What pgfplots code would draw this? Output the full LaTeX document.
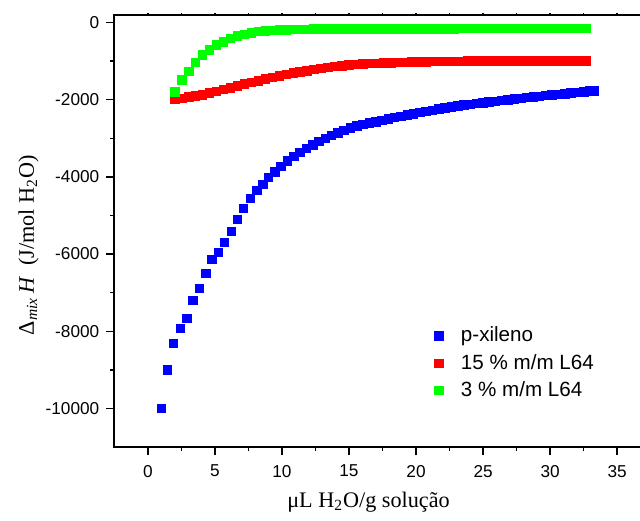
\documentclass[border=0pt]{standalone}
\usepackage{amsmath}
\usepackage{fontspec}
\setmainfont{Liberation Serif}
\setsansfont{Liberation Sans}
\usepackage{pgfplots}
\usepackage{pgfplotstable}
\pgfplotsset{compat=1.18}

\pgfplotstableread{
x y
1.00 -10000
1.44 -9000
1.91 -8316
2.41 -7927
2.88 -7668
3.33 -7194
3.83 -6891
4.30 -6503
4.75 -6140
5.24 -5959
5.71 -5699
6.21 -5407
6.66 -5096
7.13 -4819
7.63 -4560
8.10 -4345
8.57 -4197
8.99 -4016
9.46 -3870
9.93 -3730
10.40 -3589
10.87 -3472
11.34 -3367
11.81 -3262
12.28 -3171
12.75 -3081
13.22 -2997
13.69 -2926
14.16 -2854
14.63 -2791
15.10 -2733
15.57 -2676
16.04 -2639
16.51 -2603
16.98 -2566
17.45 -2530
17.92 -2493
18.39 -2460
18.86 -2428
19.33 -2396
19.80 -2364
20.27 -2332
20.74 -2301
21.21 -2272
21.68 -2243
22.15 -2214
22.62 -2185
23.09 -2157
23.56 -2138
24.03 -2118
24.50 -2099
24.97 -2079
25.44 -2060
25.91 -2040
26.38 -2020
26.85 -2000
27.32 -1980
27.79 -1960
28.26 -1942
28.73 -1926
29.20 -1909
29.67 -1892
30.14 -1876
30.61 -1859
31.08 -1843
31.55 -1827
32.02 -1811
32.49 -1794
32.96 -1778
33.30 -1770
}\bluedata

\pgfplotstableread{
x y
1.99 -1995
2.51 -1965
3.03 -1933
3.55 -1902
4.07 -1869
4.59 -1825
5.11 -1780
5.63 -1733
6.15 -1687
6.67 -1641
7.19 -1595
7.71 -1549
8.23 -1504
8.75 -1461
9.27 -1420
9.79 -1381
10.31 -1344
10.83 -1309
11.35 -1277
11.87 -1245
12.39 -1215
12.91 -1185
13.43 -1159
13.95 -1134
14.47 -1116
14.99 -1098
15.51 -1085
16.03 -1071
16.55 -1062
17.07 -1054
17.59 -1046
18.11 -1039
18.63 -1034
19.15 -1028
19.67 -1023
20.19 -1018
20.71 -1014
21.23 -1010
21.75 -1007
22.27 -1004
22.79 -1002
23.31 -1001
23.83 -1000
24.35 -1000
24.87 -1000
25.39 -999
25.91 -999
26.43 -999
26.95 -998
27.47 -998
27.99 -998
28.51 -998
29.03 -997
29.55 -997
30.07 -997
30.59 -997
31.11 -996
31.63 -996
32.15 -996
32.67 -996
}\reddata

\pgfplotstableread{
x y
1.99 -1797
2.51 -1480
3.03 -1262
3.55 -1036
4.07 -842
4.59 -713
5.11 -585
5.63 -496
6.15 -414
6.67 -351
7.19 -304
7.71 -264
8.23 -230
8.75 -212
9.27 -201
9.79 -193
10.31 -187
10.83 -182
11.35 -177
11.87 -173
12.39 -170
12.91 -168
13.43 -166
13.95 -165
14.47 -164
14.99 -163
15.51 -162
16.03 -161
16.55 -161
17.07 -160
17.59 -160
18.11 -159
18.63 -159
19.15 -158
19.67 -158
20.19 -158
20.71 -157
21.23 -157
21.75 -157
22.27 -157
22.79 -157
23.31 -156
23.83 -156
24.35 -156
24.87 -156
25.39 -156
25.91 -156
26.43 -156
26.95 -155
27.47 -155
27.99 -155
28.51 -155
29.03 -155
29.55 -155
30.07 -155
30.59 -155
31.11 -155
31.63 -155
32.15 -155
32.67 -155
}\greendata

\begin{document}
\begin{tikzpicture}
\useasboundingbox (0,0) rectangle (320pt,260pt);
\begin{axis}[
  at={(57.15pt,36.5pt)}, anchor=south west,
  scale only axis, width=264.85pt, height=216.15pt,
  xmin=-2.5, xmax=37, ymin=-11000, ymax=200,
  xtick={0,5,...,35}, ytick={-10000,-8000,...,0},
  minor x tick num=1, minor y tick num=1,
  xtick pos=bottom, ytick pos=left,
  tick align=outside,
  major tick length=4pt, minor tick length=2pt,
  every tick/.style={black, line width=0.7pt},
  axis line style={line width=1pt},
  scaled y ticks=false,
  /pgf/number format/assume math mode=true,
  /pgf/number format/1000 sep={},
  tick label style={font=\sffamily\fontsize{8.6}{10}\selectfont},
  xticklabel style={yshift=-1.5pt},
  xlabel={μL H\textsubscript{2}O/g solução},
  ylabel={Δ$_{\text{\itshape mix}}$\,\textit{H}\ \ (J/mol H$_{\text{2}}$O)},
  label style={font=\fontsize{11.1}{13}\selectfont},
  xlabel style={at={(axis description cs:0.48,-0.128)}, anchor=center},
  ylabel style={at={(axis description cs:-0.162,0.467)}, anchor=center},
  legend cell align=left,
  legend image code/.code={\draw[#1] plot coordinates {(0pt,0pt)}; \path (-3pt,0pt) (9pt,0pt);},
  legend style={at={(axis description cs:0.588,0.194)}, anchor=west,
    draw=none, fill=none, font=\sffamily\fontsize{10.3}{12}\selectfont,
    row sep=0.6pt},
]
\addplot[only marks, mark=square*, mark size=2.15pt, mark options={draw=blue, fill=blue, line width=0.25pt}] table[x=x,y=y] {\bluedata};
\addlegendentry{p-xileno}
\addplot[only marks, mark=square*, mark size=2.15pt, mark options={draw=red, fill=red, line width=0.25pt}] table[x=x,y=y] {\reddata};
\addlegendentry{15 \% m/m L64}
\addplot[only marks, mark=square*, mark size=2.15pt, mark options={draw=green, fill=green, line width=0.25pt}] table[x=x,y=y] {\greendata};
\addlegendentry{3 \% m/m L64}
\end{axis}
\begin{axis}[
  at={(57.15pt,36.5pt)}, anchor=south west,
  scale only axis, width=264.85pt, height=216.15pt,
  xmin=-2.5, xmax=37, ymin=-11000, ymax=200,
  axis x line*=top, axis y line=none,
  axis line style={line width=1pt, -},
  xtick={0,5,...,35}, minor x tick num=1, xticklabels={},
  tick align=center, major tick length=1.5pt, minor tick length=1.5pt,
  every tick/.style={black, line width=0.7pt},
]
\end{axis}
\end{tikzpicture}
\end{document}
